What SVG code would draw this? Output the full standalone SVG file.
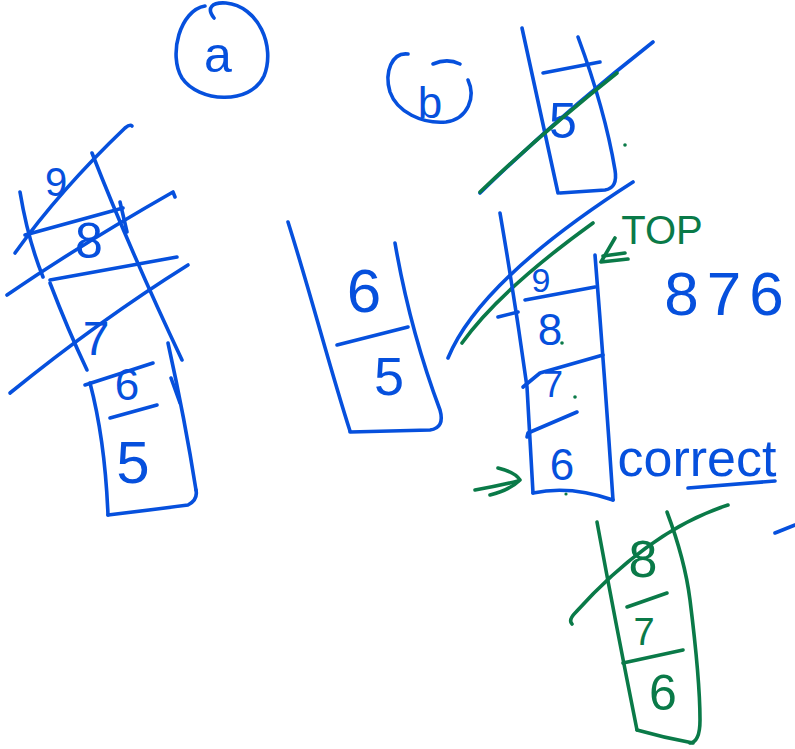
<svg xmlns="http://www.w3.org/2000/svg" width="795" height="749" viewBox="0 0 795 749">
<style>
.b{fill:none;stroke:#0650DD;stroke-width:3.6;stroke-linecap:round;stroke-linejoin:round}
.g{fill:none;stroke:#0A7A48;stroke-width:3.6;stroke-linecap:round;stroke-linejoin:round}
.tb{fill:#0650DD;font-family:"Liberation Sans",Arial,sans-serif;text-anchor:middle}
.tg{fill:#0A7A48;font-family:"Liberation Sans",Arial,sans-serif;text-anchor:middle}
</style>
<rect width="795" height="749" fill="#fff"/>

<g id="label-a">
<path class="b" d="M205,6 C180,10 168,55 182,78 C198,102 250,106 264,76 C276,46 258,6 226,3 C212,2 206,8 214,18"/>
<text class="tb" x="218" y="72" font-size="50">a</text>
</g>

<g id="label-b">
<path class="b" d="M408,54 C392,52 384,72 390,92 C397,112 422,124 446,122 C468,119 476,97 468,80"/>
<path class="b" d="M433,64 C442,60 452,60 460,64"/>
<text class="tb" x="430" y="118" font-size="44">b</text>
</g>

<g id="stack-a">
<path class="b" d="M20,192 Q28,240 43,277"/>
<path class="b" d="M50,283 Q68,330 87,370"/>
<path class="b" d="M92,153 Q130,250 182,360"/>
<path class="b" d="M120,202 L127,232"/>
<path class="b" d="M25,235 L123,208"/>
<path class="b" d="M50,280 L177,257"/>
<path class="b" d="M15,253 Q60,190 125,128 Q130,124 132,126"/>
<path class="b" d="M7,295 Q80,245 173,192 L175,197"/>
<path class="b" d="M10,393 Q100,320 188,265"/>
<text class="tb" x="56" y="196" font-size="40">9</text>
<text class="tb" x="89" y="258" font-size="50">8</text>
<text class="tb" x="96" y="355" font-size="48">7</text>
<path class="b" d="M85,385 L153,363"/>
<path class="b" d="M90,383 Q105,440 108,515"/>
<path class="b" d="M108,515 Q150,510 188,505 Q198,500 196,490"/>
<path class="b" d="M168,343 Q185,420 196,490"/>
<path class="b" d="M171,378 L180,403"/>
<path class="b" d="M110,418 L157,405"/>
<text class="tb" x="127" y="400" font-size="44">6</text>
<text class="tb" x="133" y="483" font-size="60">5</text>
</g>

<g id="stack-middle">
<path class="b" d="M288,222 Q300,260 320,330 Q340,400 350,431"/>
<path class="b" d="M395,243 Q410,330 440,410 Q445,428 430,430 L350,432"/>
<path class="b" d="M337,345 L408,327"/>
<text class="tb" x="364" y="312" font-size="62">6</text>
<text class="tb" x="389" y="395" font-size="54">5</text>
</g>

<g id="stack-b-top">
<path class="b" d="M522,28 Q540,110 558,193"/>
<path class="b" d="M578,37 Q605,110 615,170 Q618,188 605,190 L560,193"/>
<path class="b" d="M543,73 L600,62"/>
<text class="tb" x="563" y="138" font-size="50">5</text>
<path class="b" d="M480,193 Q560,115 653,42"/>
<path class="g" d="M480,192 Q545,130 617,73"/>
<circle cx="625" cy="145" r="1.8" fill="#0A7A48"/>
</g>

<g id="stack-b">
<path class="b" d="M633,182 Q480,280 448,358"/>
<path class="g" d="M593,223 Q500,290 462,343"/>
<path class="b" d="M500,213 Q515,300 527,387 Q530,440 533,493"/>
<path class="b" d="M595,255 Q605,380 613,500"/>
<path class="b" d="M533,493 Q570,485 613,500"/>
<text class="tb" x="541" y="292" font-size="34">9</text>
<path class="b" d="M525,300 L595,287"/>
<path class="b" d="M498,317 L518,312"/>
<path class="b" d="M523,387 L540,373 L603,355"/>
<path class="b" d="M527,437 L528,433 L577,412"/>
<text class="tb" x="550" y="345" font-size="44">8</text>
<text class="tb" x="553" y="397" font-size="36">7</text>
<text class="tb" x="562" y="480" font-size="44">6</text>
<circle cx="562" cy="343" r="1.8" fill="#0A7A48"/>
<circle cx="575" cy="397" r="1.8" fill="#0A7A48"/>
<circle cx="566" cy="494" r="1.6" fill="#0A7A48"/>
<path class="g" d="M475,490 Q498,486 518,481"/>
<path class="g" d="M498,468 Q515,472 520,480 Q510,490 490,495"/>
<path class="g" d="M615,238 L601,262 L628,259"/>
<path class="g" d="M603,256 L625,253"/>
<text class="tg" x="662" y="244" font-size="40">TOP</text>
</g>

<g id="note">
<text class="tb" x="728" y="315" font-size="62" letter-spacing="8">876</text>
<text class="tb" x="697" y="476" font-size="52">correct</text>
<path class="b" d="M688,488 L775,481"/>
<path class="b" d="M775,533 L795,525"/>
</g>

<g id="stack-green">
<path class="g" d="M597,522 Q615,620 637,730"/>
<path class="g" d="M637,730 Q665,738 693,743"/>
<path class="g" d="M667,512 Q685,560 690,600 Q700,680 700,720 Q700,742 690,743"/>
<path class="g" d="M627,607 L667,593"/>
<path class="g" d="M623,663 L683,650"/>
<path class="g" d="M572,624 Q568,620 576,612 Q650,530 728,505"/>
<text class="tg" x="643" y="577" font-size="52">8</text>
<text class="tg" x="644" y="645" font-size="38">7</text>
<text class="tg" x="663" y="710" font-size="50">6</text>
</g>
</svg>
